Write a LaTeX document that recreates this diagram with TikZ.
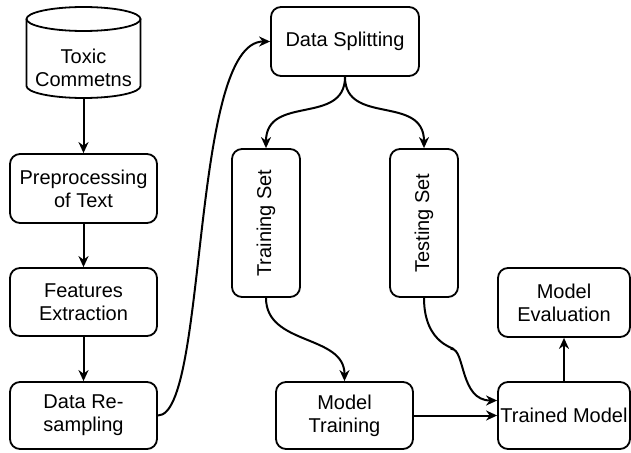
\documentclass[tikz,border=0pt]{standalone}
\usepackage{fontspec}
\setmainfont{Liberation Sans}
\usetikzlibrary{arrows.meta}
\begin{document}
\begin{tikzpicture}[x=1pt,y=-1pt,
  lw/.style={line width=1.8pt},
  box/.style={draw, lw, rounded corners=10pt, align=center, inner sep=0pt,
    font=\fontsize{20}{23}\selectfont},
  plain/.style={align=center, inner sep=0pt, font=\fontsize{20}{23}\selectfont},
  conn/.style={line width=2pt, -{Stealth[length=11pt,width=10pt,inset=3.5pt]}},
]
\useasboundingbox (0,0) rectangle (631,452);
% cylinder
\draw[lw] (83.5,19) ellipse [x radius=57pt, y radius=12pt];
\draw[lw] (26.5,19) -- (26.5,86) arc[start angle=180,end angle=360,x radius=57pt,y radius=12pt] -- (140.5,19);
\node[plain, minimum width=114pt, minimum height=60pt] (cyl) at (83.5,68) {Toxic\\Commetns};
% boxes
\node[box, minimum width=147pt, minimum height=69pt] (pre) at (83.5,188.5) {Preprocessing\\of Text};
\node[box, minimum width=147pt, minimum height=68pt] (feat) at (83.5,302) {Features\\Extraction};
\node[box, minimum width=147pt, minimum height=67pt] (resamp) at (83.5,415.5) {Data Re-\\sampling};
\node[box, minimum width=148pt, minimum height=69pt] (split) at (345,41.5) {Data Splitting};
\node[box, rotate=90, minimum width=148pt, minimum height=68pt] (train) at (266,223) {Training Set};
\node[box, rotate=90, minimum width=148pt, minimum height=68pt] (test) at (424,223) {Testing Set};
\node[box, minimum width=137pt, minimum height=67pt] (mtrain) at (344.5,415.5) {Model\\Training};
\node[box, minimum width=132pt, minimum height=67pt] (trained) at (564,415.5) {Trained Model};
\node[box, minimum width=132pt, minimum height=69pt] (eval) at (564,302.5) {Model\\Evaluation};
% connectors
\draw[conn] (cyl.south) -- (pre.north);
\draw[conn] (pre.south) -- (feat.north);
\draw[conn] (feat.south) -- (resamp.north);
\draw[conn] (resamp.east) .. controls +(50,0) and +(-80,0) .. (split.west);
\draw[conn] (split.south) .. controls +(0,49) and +(0,-54) .. (train.east);
\draw[conn] (split.south) .. controls +(0,49) and +(0,-54) .. (test.east);
\draw[conn] (train.west) .. controls +(0,48) and +(0,-47) .. (mtrain.north);
\draw[conn] (test.west) .. controls +(0,48) and +(6,-1) .. (452,349) .. controls +(13,1) and +(-37,0) .. ([yshift=15pt]trained.west);
\draw[conn] (mtrain.east) -- (trained.west);
\draw[conn] (trained.north) -- (eval.south);
\end{tikzpicture}
\end{document}
